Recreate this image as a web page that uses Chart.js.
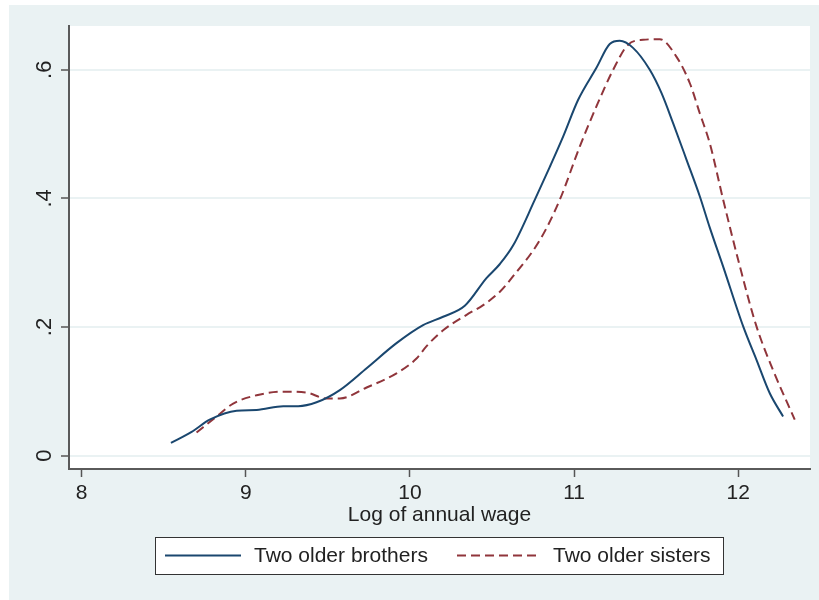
<!DOCTYPE html>
<html>
<head>
<meta charset="utf-8">
<script src="https://cdn.jsdelivr.net/npm/chart.js@4/dist/chart.umd.min.js"></script>
<style>
  html, body { margin: 0; padding: 0; background: #ffffff; }
  #wrap { width: 819px; height: 600px; }
</style>
</head>
<body>
<div id="wrap"><canvas id="grafico"></canvas></div>
<script>
// densidade do log do salario anual
const xIrmaos = [8.544, 8.67, 8.78, 8.944, 9.066, 9.228, 9.319, 9.431, 9.573, 9.736, 9.918, 10.08, 10.202, 10.334,
  10.466, 10.548, 10.629, 10.761, 10.852, 10.933, 11.024, 11.136, 11.217, 11.278, 11.359, 11.461, 11.532, 11.603,
  11.685, 11.766, 11.826, 11.908, 12.03, 12.111, 12.192, 12.273];
const yIrmaos = [0.020, 0.037, 0.056, 0.070, 0.071, 0.077, 0.077, 0.083, 0.102, 0.136, 0.175, 0.203, 0.216, 0.233,
  0.276, 0.298, 0.327, 0.398, 0.449, 0.496, 0.553, 0.603, 0.640, 0.645, 0.634, 0.600, 0.564, 0.517,
  0.460, 0.403, 0.355, 0.294, 0.201, 0.149, 0.097, 0.061];

const xIrmas = [8.70, 8.822, 8.923, 9.066, 9.228, 9.37, 9.49, 9.573, 9.736, 9.918, 10.04, 10.10, 10.202, 10.345,
  10.446, 10.548, 10.619, 10.791, 10.913, 11.035, 11.136, 11.238, 11.329, 11.42, 11.522, 11.624, 11.705, 11.766,
  11.826, 11.908, 12.01, 12.111, 12.212, 12.344];
const yIrmas = [0.036, 0.061, 0.081, 0.094, 0.0995, 0.098, 0.089, 0.089, 0.106, 0.128, 0.151, 0.170, 0.195, 0.219,
  0.234, 0.255, 0.276, 0.335, 0.398, 0.481, 0.543, 0.600, 0.639, 0.6465, 0.6475, 0.620, 0.579, 0.532,
  0.486, 0.398, 0.294, 0.201, 0.133, 0.056];

const ticksX = [8, 9, 10, 11, 12];
const ticksY = [0, 0.2, 0.4, 0.6];
const tituloX = "Log of annual wage";
const nomes = ["Two older brothers", "Two older sisters"];

const corAzul = "#1a476f";
const corVermelha = "#90353b";
const fundo = "#eaf2f3";
const fonte = "Liberation Sans, Arial, sans-serif";

function rotuloY(v) {
  if (v === 0) return "0";
  return String(Math.round(v * 10) / 10).replace(/^0/, "");
}

const pluginFundo = {
  id: "fundo",
  beforeDraw(chart) {
    const ctx = chart.ctx;
    const a = chart.chartArea;
    ctx.save();
    ctx.fillStyle = fundo;
    ctx.fillRect(9, 5, chart.width - 9, chart.height - 5);
    ctx.fillStyle = "#ffffff";
    ctx.fillRect(a.left, a.top, a.right - a.left, a.bottom - a.top);
    ctx.restore();
  },
  afterDraw(chart) {
    const ctx = chart.ctx;
    const a = chart.chartArea;
    const y = chart.scales.y;
    ctx.save();
    ctx.fillStyle = "#222222";
    ctx.font = "22px " + fonte;
    ctx.textAlign = "center";
    ctx.textBaseline = "middle";
    // rotulos do eixo y girados
    ticksY.forEach(v => {
      ctx.save();
      ctx.translate(45, y.getPixelForValue(v));
      ctx.rotate(-Math.PI / 2);
      ctx.fillText(rotuloY(v), 0, 0);
      ctx.restore();
    });
    // titulo do eixo x
    ctx.font = "21px " + fonte;
    ctx.fillText(tituloX, (a.left + a.right) / 2, 515);
    // legenda
    const lx = 155, ly = 537, lw = 568, lh = 37;
    ctx.fillStyle = "#ffffff";
    ctx.fillRect(lx, ly, lw, lh);
    ctx.strokeStyle = "#333333";
    ctx.lineWidth = 1;
    ctx.strokeRect(lx + 0.5, ly + 0.5, lw, lh);
    const my = ly + lh / 2;
    ctx.lineWidth = 2;
    ctx.strokeStyle = corAzul;
    ctx.beginPath(); ctx.moveTo(165, my); ctx.lineTo(241, my); ctx.stroke();
    ctx.strokeStyle = corVermelha;
    ctx.setLineDash([9, 5]);
    ctx.beginPath(); ctx.moveTo(457, my); ctx.lineTo(540, my); ctx.stroke();
    ctx.setLineDash([]);
    ctx.fillStyle = "#222222";
    ctx.font = "21px " + fonte;
    ctx.textAlign = "left";
    ctx.fillText(nomes[0], 254, my + 1);
    ctx.fillText(nomes[1], 553, my + 1);
    ctx.restore();
  }
};

new Chart(document.getElementById("grafico"), {
  type: "line",
  data: {
    datasets: [
      { label: nomes[0], data: xIrmaos.map((x, i) => ({ x, y: yIrmaos[i] })), borderColor: corAzul, borderWidth: 2,
        pointRadius: 0, fill: false, cubicInterpolationMode: "monotone" },
      { label: nomes[1], data: xIrmas.map((x, i) => ({ x, y: yIrmas[i] })), borderColor: corVermelha, borderWidth: 2,
        borderDash: [9, 5], pointRadius: 0, fill: false, cubicInterpolationMode: "monotone" }
    ]
  },
  options: {
    responsive: true,
    maintainAspectRatio: false,
    animation: false,
    layout: { padding: { left: 9, top: 26, right: 9, bottom: 0 } },
    plugins: { legend: { display: false }, tooltip: { enabled: false } },
    scales: {
      x: {
        type: "linear",
        min: 7.923,
        max: 12.437,
        afterBuildTicks: s => { s.ticks = ticksX.map(v => ({ value: v })); },
        afterFit: s => { s.height = 131; },
        grid: { drawOnChartArea: false, tickLength: 8, tickColor: "#555555", tickWidth: 1.5 },
        border: { color: "#5a5a5a", width: 2 },
        ticks: { color: "#222222", font: { family: fonte, size: 21 }, padding: 4, maxRotation: 0 }
      },
      y: {
        min: -0.0207,
        max: 0.668,
        afterBuildTicks: s => { s.ticks = ticksY.map(v => ({ value: v })); },
        afterFit: s => { s.width = 60; },
        grid: { color: "#eaf2f3", lineWidth: 2, tickLength: 8, tickColor: "#555555", tickWidth: 1.5 },
        border: { color: "#5a5a5a", width: 2 },
        ticks: { display: false, callback: rotuloY }
      }
    }
  },
  plugins: [pluginFundo]
});
</script>
</body>
</html>
